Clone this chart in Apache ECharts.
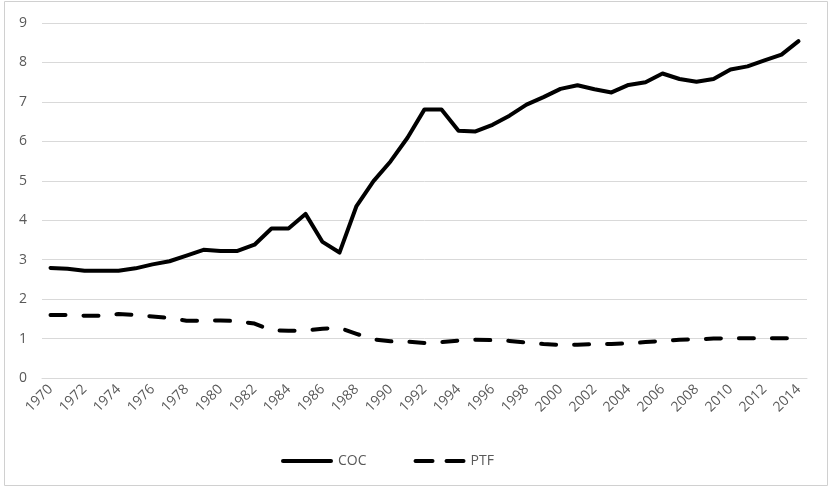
<!DOCTYPE html>
<html>
<head>
<meta charset="utf-8">
<script src="https://cdn.jsdelivr.net/npm/echarts@6/dist/echarts.min.js"></script>
<style>
html,body{margin:0;padding:0;background:#fff;}
#chart{width:829px;height:487px;}
</style>
</head>
<body>
<div id="chart"></div>
<script>
var years = [];
for (var y = 1970; y <= 2014; y++) years.push(String(y));

var cocValues = [2.79, 2.77, 2.72, 2.72, 2.72, 2.78, 2.88, 2.96, 3.10, 3.25,
  3.22, 3.22, 3.38, 3.79, 3.79, 4.16, 3.45, 3.18, 4.36, 4.99,
  5.49, 6.09, 6.81, 6.81, 6.27, 6.25, 6.42, 6.65, 6.93, 7.12,
  7.33, 7.42, 7.32, 7.24, 7.43, 7.50, 7.72, 7.58, 7.51, 7.58,
  7.82, 7.90, 8.05, 8.20, 8.54];

var ptfValues = [1.60, 1.60, 1.58, 1.58, 1.62, 1.60, 1.56, 1.52, 1.45, 1.45,
  1.46, 1.44, 1.38, 1.21, 1.20, 1.20, 1.25, 1.27, 1.12, 0.98,
  0.93, 0.92, 0.89, 0.91, 0.95, 0.97, 0.96, 0.94, 0.90, 0.86,
  0.84, 0.84, 0.86, 0.86, 0.88, 0.91, 0.94, 0.97, 0.98, 1.00,
  1.01, 1.01, 1.01, 1.01, 1.01];

var seriesNames = ['COC', 'PTF'];

var font = 'Open Sans, Liberation Sans, sans-serif';
var chart = echarts.init(document.getElementById('chart'), null, {renderer: 'canvas'});
chart.setOption({
  animation: false,
  backgroundColor: '#fff',
  graphic: [{
    type: 'rect', silent: true,
    shape: {x: 4.5, y: 1.5, width: 823, height: 484},
    style: {fill: 'none', stroke: '#d0d0d0', lineWidth: 1}
  }],
  grid: {left: 42, right: 22, top: 23, bottom: 109, containLabel: false},
  legend: {
    data: [
      {name: seriesNames[0], icon: 'path://M2,0H50A2,2 0 0 1 50,4H2A2,2 0 0 1 2,0Z'},
      {name: seriesNames[1], icon: 'path://M2,0H19A2,2 0 0 1 19,4H2A2,2 0 0 1 2,0Z M33,0H50A2,2 0 0 1 50,4H33A2,2 0 0 1 33,0Z'}
    ],
    top: 449,
    left: 276,
    itemWidth: 52,
    itemHeight: 4,
    itemGap: 47,
    itemStyle: {color: '#000', borderWidth: 0},
    textStyle: {fontFamily: font, fontSize: 14, color: '#595959'}
  },
  xAxis: {
    type: 'category',
    data: years,
    boundaryGap: true,
    axisLine: {show: true, lineStyle: {color: '#d9d9d9', width: 1}},
    axisTick: {show: false},
    axisLabel: {
      interval: 1,
      rotate: 45,
      margin: 9,
      fontFamily: font,
      fontSize: 14,
      color: '#595959'
    }
  },
  yAxis: {
    type: 'value',
    min: 0, max: 9, interval: 1,
    axisLine: {show: false},
    axisTick: {show: false},
    axisLabel: {fontFamily: font, fontSize: 14, color: '#595959', margin: 15},
    splitLine: {lineStyle: {color: '#d9d9d9', width: 1}}
  },
  series: [{
    name: seriesNames[0],
    type: 'line',
    data: cocValues,
    symbol: 'none',
    smooth: false,
    lineStyle: {color: '#000', width: 4, cap: 'round', join: 'round'},
    itemStyle: {color: '#000'}
  }, {
    name: seriesNames[1],
    type: 'line',
    data: ptfValues,
    symbol: 'none',
    lineStyle: {color: '#000', width: 4, type: [15, 18], cap: 'round', join: 'round'},
    itemStyle: {color: '#000'}
  }]
});
</script>
</body>
</html>
